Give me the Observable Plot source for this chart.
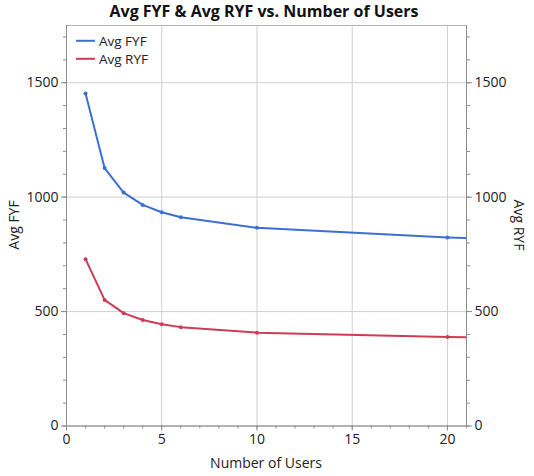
<!DOCTYPE html>
<html>
<head>
<meta charset="utf-8">
<script src="https://cdn.jsdelivr.net/npm/d3@7"></script>
<script src="https://cdn.jsdelivr.net/npm/@observablehq/plot@0.6"></script>
<style>
body { margin: 0; background: #fff; font-family: "Open Sans", sans-serif; }
#title { height: 20px; line-height: 22px; text-align: center; font-weight: bold; font-size: 16px; color: #111; width: 528px; }
#chart svg { display: block; }
</style>
</head>
<body>
<div id="title">Avg FYF &amp; Avg RYF vs. Number of Users</div>
<div id="chart"></div>
<script>
// values
let users = [1, 2, 3, 4, 5, 6, 10, 20, 30];
let avg_fyf = [1453, 1127, 1020, 966, 934, 912, 866, 824, 796];
let avg_ryf = [729, 551, 493, 463, 445, 432, 408, 389, 378];

let series_names = ["Avg FYF", "Avg RYF"];
let series_colors = ["#3d6fd2", "#cc3c55"];

let x_ticks = [0, 5, 10, 15, 20];
let y_ticks = [0, 500, 1000, 1500];
let x_minor = d3.range(0, 22, 1);
let y_minor = d3.range(0, 1800, 100);

let rows = [];
users.forEach((u, i) => {
    rows.push({users: u, value: avg_fyf[i], series: series_names[0]});
    rows.push({users: u, value: avg_ryf[i], series: series_names[1]});
});

const axisColor = "#8c8c8c";
const textColor = "#222";
const fmt = d3.format("d");

let plot = Plot.plot({
    width: 534,
    height: 456,
    marginLeft: 66,
    marginRight: 68,
    marginTop: 5,
    marginBottom: 50.5,
    style: {fontFamily: '"Open Sans", sans-serif', fontSize: "14px", color: textColor, background: "#fff"},
    x: {domain: [0, 21]},
    y: {domain: [0, 1750]},
    color: {domain: series_names, range: series_colors},
    marks: [
        Plot.gridX(x_ticks.filter(d => d > 0), {stroke: "#cfcfcf", strokeOpacity: 1}),
        Plot.gridY(y_ticks.filter(d => d > 0), {stroke: "#cfcfcf", strokeOpacity: 1}),
        Plot.frame({stroke: "#b4b4b4"}),
        Plot.ruleX([0, 21], {stroke: axisColor}),
        Plot.ruleY([0], {stroke: axisColor}),
        Plot.axisX(x_minor, {tickSize: 3, tickFormat: () => "", stroke: axisColor, label: null}),
        Plot.axisX(x_ticks, {tickSize: 5, tickPadding: 3, tickFormat: fmt, stroke: axisColor, fill: textColor, label: null}),
        Plot.axisY(y_minor, {anchor: "left", tickSize: 3, tickFormat: () => "", stroke: axisColor, label: null}),
        Plot.axisY(y_ticks, {anchor: "left", tickSize: 5, tickPadding: 3, tickFormat: fmt, stroke: axisColor, fill: textColor, label: null}),
        Plot.axisY(y_minor, {anchor: "right", tickSize: 3, tickFormat: () => "", stroke: axisColor, label: null}),
        Plot.axisY(y_ticks, {anchor: "right", tickSize: 5, tickPadding: 3, tickFormat: fmt, stroke: axisColor, fill: textColor, label: null}),
        Plot.line(rows, {x: "users", y: "value", z: "series", stroke: "series", strokeWidth: 2, clip: true}),
        Plot.dot(rows.filter(d => d.users <= 21), {x: "users", y: "value", fill: "series", r: 2})
    ]
});

document.querySelector("#chart").append(plot);

// axis titles and the in-plot legend
const svg = d3.select(plot);
svg.append("text").attr("transform", "translate(14,205) rotate(-90)")
    .attr("text-anchor", "middle").attr("dy", "0.35em").attr("fill", textColor)
    .text("Avg FYF");
svg.append("text").attr("transform", "translate(519,205) rotate(90)")
    .attr("text-anchor", "middle").attr("dy", "0.35em").attr("fill", textColor)
    .text("Avg RYF");
svg.append("text").attr("x", 266).attr("y", 443)
    .attr("text-anchor", "middle").attr("dy", "0.35em").attr("fill", textColor)
    .text("Number of Users");

let legend = svg.append("g").attr("text-anchor", "start");
series_names.forEach((name, i) => {
    let y = 20.8 + i * 18;
    legend.append("line").attr("x1", 76).attr("x2", 95).attr("y1", y).attr("y2", y)
        .attr("stroke", series_colors[i]).attr("stroke-width", 2);
    legend.append("text").attr("x", 99).attr("y", y).attr("dy", "0.35em")
        .attr("text-anchor", "start").attr("font-size", "13.5px")
        .attr("fill", textColor).text(name);
});
</script>
</body>
</html>
